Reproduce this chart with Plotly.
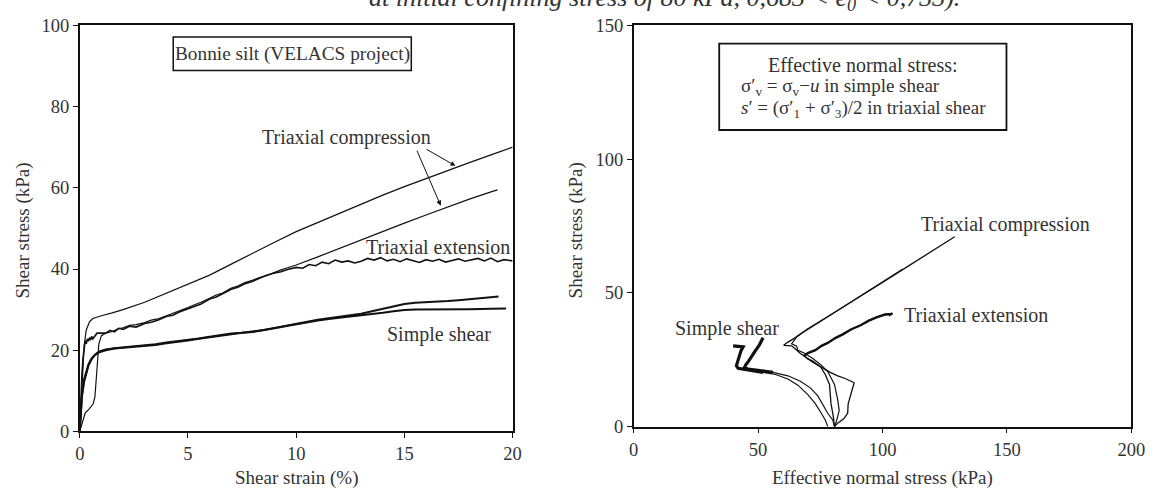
import plotly.graph_objects as go

W, H = 1170, 500
SERIF = "Liberation Serif"
INK = "#111111"
TXT = "#333333"

# ---- Stress-strain curves (shear strain %, shear stress kPa) ----
tc1_strain = [0, 0.05, 0.1, 0.15, 0.2, 0.3, 0.45, 0.6, 0.8, 1.0, 1.5, 2, 3, 4, 5, 6, 7, 8, 9, 10,
              11, 12, 13, 14, 15, 16, 17, 18, 19, 20]
tc1_stress = [0, 6, 12, 17, 21, 25, 27, 27.8, 28.2, 28.5, 29.2, 30.0, 31.8, 34.0, 36.2, 38.5, 41.2,
              44.0, 46.6, 49.2, 51.5, 53.8, 56.0, 58.2, 60.3, 62.3, 64.3, 66.2, 68.1, 70.0]

tc2_strain = [0, 0.1, 0.25, 0.45, 0.62, 0.7, 0.75, 0.8, 0.88, 1.0, 1.2, 1.5, 1.8, 2.0, 2.3, 2.6, 3.0,
              3.3, 3.6, 4.0, 4.3, 4.6, 5.0, 5.3, 5.6, 6.0, 6.3, 6.6, 7.0, 7.3, 7.6, 8.0, 8.3, 8.6,
              9.0, 9.3, 9.6, 10, 11, 12, 13, 14, 15, 16, 17, 18, 19, 19.3]
tc2_stress = [0, 2.0, 4.5, 5.6, 6.8, 8.5, 12.0, 17.5, 21.5, 23.6, 24.2, 24.6, 25.3, 25.5, 26.1, 26.3,
              26.8, 27.4, 27.7, 28.5, 29.1, 29.6, 30.5, 31.2, 31.8, 32.8, 33.6, 34.1, 35.3, 35.8,
              36.6, 37.3, 37.9, 38.3, 39.2, 39.8, 40.3, 41.0, 43.0, 45.1, 47.2, 49.3, 51.3, 53.3,
              55.3, 57.2, 59.0, 59.5]

te_strain = [0, 0.05, 0.1, 0.15, 0.2, 0.25, 0.3, 0.35, 0.4, 0.45, 0.5, 0.55, 0.6, 0.7, 0.8, 1.2,
             1.4, 1.6, 1.8, 2.0, 2.3, 2.6, 3.0, 3.3, 3.6, 4.0, 4.3, 4.6, 5.0, 5.3, 5.6, 6.0, 6.3,
             6.6, 7.0, 7.3, 7.6, 8.0, 8.3, 8.6, 9.0, 9.3, 9.6, 10.0, 10.3, 10.6, 10.9, 11.2, 11.5,
             11.8, 12.1, 12.4, 12.7, 13.0, 13.3, 13.6, 13.9, 14.2, 14.5, 14.8, 15.1, 15.4, 15.7,
             16.0, 16.3, 16.6, 16.9, 17.2, 17.5, 17.8, 18.1, 18.4, 18.7, 19.0, 19.3, 19.6, 20.0]
te_stress = [0, 8, 14, 18, 21, 22.3, 21.6, 22.8, 22.2, 23.1, 22.5, 23.4, 22.8, 23.5, 24.2, 24.2,
             24.9, 24.5, 25.4, 25.1, 25.9, 25.7, 26.6, 26.9, 27.4, 28.3, 28.6, 29.4, 30.2, 30.9,
             31.4, 32.6, 33.1, 33.9, 35.0, 35.5, 36.3, 37.0, 37.6, 38.4, 39.0, 39.3, 39.9, 40.4,
             40.2, 41.1, 40.8, 41.7, 41.3, 42.2, 41.7, 42.0, 41.5, 41.9, 42.6, 42.2, 42.8, 42.0,
             42.4, 41.8, 42.5, 42.1, 41.6, 42.3, 41.9, 42.4, 41.7, 42.1, 42.5, 41.9, 42.2, 42.6,
             42.0, 42.7, 41.8, 42.3, 42.0]

ssa_strain = [0, 0.05, 0.1, 0.2, 0.3, 0.4, 0.55, 0.7, 0.9, 1.2, 1.6, 2.0, 2.5, 3.0, 3.5, 4.0, 4.5,
              5.0, 5.5, 6.0, 6.5, 7.0, 7.5, 8.0, 8.5, 9.0, 9.5, 10.0, 10.5, 11.0, 11.5, 12.0, 12.5,
              13.0, 13.5, 14.0, 14.5, 15.0, 15.5, 16.0, 16.5, 17.0, 17.5, 18.0, 18.5, 19.0, 19.35]
ssa_stress = [0, 5.5, 9.0, 12.8, 14.8, 16.5, 18.0, 18.9, 19.7, 20.2, 20.5, 20.7, 20.9, 21.1, 21.5,
              21.9, 22.2, 22.6, 22.9, 23.3, 23.7, 24.1, 24.3, 24.6, 25.0, 25.5, 26.0, 26.6, 27.0,
              27.5, 27.9, 28.3, 28.6, 29.0, 29.6, 30.2, 30.9, 31.4, 31.7, 31.8, 31.9, 32.1, 32.3,
              32.5, 32.8, 33.0, 33.2]

ssb_strain = [0, 0.05, 0.1, 0.2, 0.3, 0.4, 0.55, 0.7, 0.9, 1.2, 1.6, 2.0, 2.5, 3.0, 3.5, 4.0, 4.5,
              5.0, 5.5, 6.0, 6.5, 7.0, 7.5, 8.0, 8.5, 9.0, 9.5, 10.0, 10.5, 11.0, 11.5, 12.0, 12.5,
              13.0, 13.5, 14.0, 14.5, 15.0, 15.5, 16.0, 17.0, 18.0, 19.0, 19.7]
ssb_stress = [0, 5.0, 8.5, 12.2, 14.5, 16.2, 17.8, 18.8, 19.5, 20.0, 20.4, 20.6, 20.8, 21.0, 21.3,
              21.7, 22.0, 22.4, 22.8, 23.2, 23.6, 24.0, 24.3, 24.5, 24.9, 25.4, 25.9, 26.4, 26.9,
              27.3, 27.7, 28.0, 28.2, 28.5, 28.8, 29.2, 29.6, 29.9, 30.0, 30.0, 30.0, 30.1, 30.2,
              30.3]

# ---- Stress paths (effective normal stress kPa, shear stress kPa) ----
ptc1_sn = [80.7, 82.0, 84.5, 86.0, 86.2, 87.5, 88.6, 85.0, 82.0, 79.0, 76.5, 74.0, 71.5, 69.0,
           66.8, 65.0, 63.5, 60.3, 62.0, 64.5, 70.0, 80.0, 90.0, 100.0, 110.0, 120.0, 129.0]
ptc1_tau = [0, 1.3, 3.0, 5.0, 8.5, 13.0, 16.4, 18.0, 19.0, 20.3, 21.5, 23.0, 24.4, 26.0, 27.5,
            29.0, 30.2, 30.4, 31.6, 33.0, 36.6, 42.3, 48.0, 53.9, 59.8, 65.6, 71.0]

ptc2_sn = [80.7, 81.5, 82.6, 82.0, 80.7, 78.0, 75.4, 72.0, 68.5, 66.0, 65.5, 63.5, 65.5, 68.0,
           75.0, 85.0, 95.0, 105.0, 108.0, 106.5, 107.8]
ptc2_tau = [0, 2.0, 6.0, 10.0, 15.8, 20.6, 23.0, 25.5, 27.5, 28.5, 30.1, 31.0, 33.5, 35.2, 39.3,
            45.2, 51.1, 57.0, 58.8, 58.2, 58.7]

pte_sn = [80.7, 80.2, 79.3, 78.7, 77.0, 75.0, 72.0, 70.0, 68.5, 70.0, 73.0, 75.5, 78.0, 81.0,
          84.0, 87.5, 91.2, 94.5, 97.8, 101.0, 103.7, 102.5, 104.0]
pte_tau = [0, 4.0, 8.6, 15.8, 19.5, 22.5, 24.5, 25.3, 26.5, 27.5, 28.6, 30.2, 31.3, 33.1, 34.5,
           36.4, 37.9, 39.6, 40.9, 41.9, 42.1, 41.6, 42.4]

pssa_sn = [80.7, 80.0, 78.0, 76.0, 74.0, 71.0, 67.0, 62.0, 56.0, 50.0, 46.0, 44.5, 45.0, 46.2,
           47.5, 49.0, 50.5, 51.5, 52.0]
pssa_tau = [0, 2.5, 5.0, 8.5, 11.5, 14.5, 17.0, 19.0, 20.3, 21.0, 21.5, 22.0, 23.0, 24.5, 26.5,
            28.5, 30.5, 32.3, 33.2]

pssb_sn = [78.0, 77.0, 75.4, 73.0, 70.0, 66.0, 62.0, 57.0, 52.0, 47.0, 44.0, 42.0, 41.3, 41.8,
           42.5, 43.2, 44.0, 42.0, 40.0]
pssb_tau = [0, 2.5, 5.0, 8.6, 12.0, 15.5, 17.8, 19.5, 20.3, 21.0, 21.3, 21.8, 22.8, 24.5, 26.5,
            28.5, 29.8, 30.0, 30.2]


def px(x):
    return x / W


def py(y):
    return 1 - y / H


fig = go.Figure()


def line(x, y, width, xa="x", ya="y"):
    fig.add_trace(go.Scatter(x=x, y=y, mode="lines", xaxis=xa, yaxis=ya,
                             line=dict(color=INK, width=width), hoverinfo="skip",
                             showlegend=False))


# left panel
line(tc1_strain, tc1_stress, 1.2)
line(tc2_strain, tc2_stress, 1.2)
line(te_strain, te_stress, 1.6)
line(ssa_strain, ssa_stress, 2.0)
line(ssb_strain, ssb_stress, 2.0)

# right panel
line(ptc1_sn, ptc1_tau, 1.3, "x2", "y2")
line(ptc2_sn, ptc2_tau, 1.2, "x2", "y2")
line(pte_sn, pte_tau, 1.3, "x2", "y2")
line(pte_sn[8:], pte_tau[8:], 2.4, "x2", "y2")
line(pssa_sn, pssa_tau, 1.2, "x2", "y2")
line(pssa_sn[8:], pssa_tau[8:], 3.2, "x2", "y2")
line(pssb_sn, pssb_tau, 1.2, "x2", "y2")
line(pssb_sn[8:], pssb_tau[8:], 3.2, "x2", "y2")

axis_common = dict(showline=True, linecolor=INK, linewidth=1.5, mirror=True,
                   ticks="outside", ticklen=5, tickwidth=1.2, tickcolor=INK,
                   showgrid=False, zeroline=False, fixedrange=True,
                   tickfont=dict(family=SERIF, size=18.5, color=TXT))

fig.update_layout(
    width=W, height=H, margin=dict(l=0, r=0, t=0, b=0),
    paper_bgcolor="white", plot_bgcolor="white",
    xaxis=dict(domain=[px(76), px(516)], range=[0, 20], tickvals=[0, 5, 10, 15, 20],
               anchor="y", **axis_common),
    yaxis=dict(domain=[py(439), py(16)], range=[0, 100], tickvals=[0, 20, 40, 60, 80, 100],
               anchor="x", **axis_common),
    xaxis2=dict(domain=[px(639), px(1145)], range=[0, 200], tickvals=[0, 50, 100, 150, 200],
                anchor="y2", **axis_common),
    yaxis2=dict(domain=[py(434), py(16)], range=[0, 150], tickvals=[0, 50, 100, 150],
                anchor="x2", **axis_common),
)

ann = []


def label(text, x, y, size=20, xanchor="center", yanchor="middle", angle=0):
    ann.append(dict(text=text, x=px(x), y=py(y), xref="paper", yref="paper",
                    xanchor=xanchor, yanchor=yanchor, showarrow=False, textangle=angle,
                    font=dict(family=SERIF, size=size, color=TXT)))


# caption line running off the top edge
label("<i>at initial confining stress of 80 kPa, 0,683 &lt; e<sub>0</sub> &lt; 0,733).</i>",
      368, -11, size=26, xanchor="left")

# axis titles
label("Shear strain (%)", 296, 488, size=19)
label("Shear stress (kPa)", 18, 230, size=19, angle=-90)
label("Effective normal stress (kPa)", 892, 488, size=19)
label("Shear stress (kPa)", 580, 230, size=19, angle=-90)

# left panel box and curve labels
fig.add_shape(type="rect", xref="paper", yref="paper", x0=px(171), x1=px(413), y0=py(63),
              y1=py(28), line=dict(color=INK, width=1.5), fillcolor="white")
label("Bonnie silt (VELACS project)", 292, 46, size=19.3)
label("Triaxial compression", 347, 133)
label("Triaxial extension", 440, 247)
label("Simple shear", 441, 338)

# right panel box and curve labels
fig.add_shape(type="rect", xref="paper", yref="paper", x0=px(726), x1=px(1018), y0=py(125),
              y1=py(35), line=dict(color=INK, width=1.8), fillcolor="white")
label("Effective normal stress:", 872, 57)
label("σ′<sub>v</sub> = σ<sub>v</sub>−<i>u</i> in simple shear", 746, 80, size=19,
      xanchor="left")
label("<i>s</i>′ = (σ′<sub>1</sub> + σ′<sub>3</sub>)/2 in triaxial shear", 746, 103, size=19,
      xanchor="left")
label("Triaxial compression", 1017, 223)
label("Triaxial extension", 987, 318)
label("Simple shear", 734, 332)

# arrows pointing at the two compression curves
for tail, head in [((15.95, 69.7), (17.36, 65.4)), ((15.55, 69.5), (16.68, 55.6))]:
    ann.append(dict(x=head[0], y=head[1], ax=tail[0], ay=tail[1], xref="x", yref="y",
                    axref="x", ayref="y", showarrow=True, arrowhead=2, arrowsize=1,
                    arrowwidth=1, arrowcolor=INK, text=""))

fig.update_layout(annotations=ann)
fig.write_html("out.html")
